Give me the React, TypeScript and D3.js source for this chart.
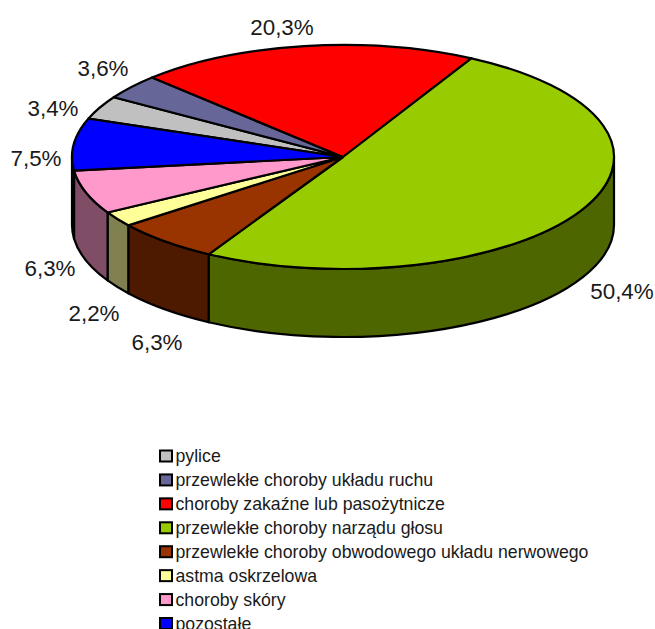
import React from "react";
import * as d3 from "d3";

// Occupational disease shares, in drawing order clockwise from the start angle
const categories = [
  "pylice",
  "przewlekłe choroby układu ruchu",
  "choroby zakaźne lub pasożytnicze",
  "przewlekłe choroby narządu głosu",
  "przewlekłe choroby obwodowego układu nerwowego",
  "astma oskrzelowa",
  "choroby skóry",
  "pozostałe",
];
const shares = [3.4, 3.6, 20.3, 50.4, 6.3, 2.2, 6.3, 7.5];
const topColors = ["#C0C0C0", "#666699", "#FF0000", "#99CC00", "#993300", "#FFFF99", "#FF99CC", "#0000FF"];
const sideColors = ["#606060", "#33334D", "#800000", "#4D6600", "#4D1A00", "#808050", "#804D66", "#000080"];
const labelAnchors = [
  [53, 108],
  [103, 68],
  [282, 27],
  [622, 291],
  [157, 342],
  [94, 313],
  [50, 268],
  [36, 158],
];

const W = 655;
const H = 629;
const cx = 343;
const cy = 157;
const rx = 271;
const ry = 112;
const depth = 68;
const startDeg = -70;
const FONT = "'Liberation Sans', Arial, sans-serif";

const toRad = (deg: number) => (deg * Math.PI) / 180;
const pieLayout = d3
  .pie<number>()
  .sort(null)
  .startAngle(toRad(startDeg))
  .endAngle(toRad(startDeg + 360));
const slices = pieLayout(shares);

const arcTop = d3.arc<d3.PieArcDatum<number>>().innerRadius(0).outerRadius(rx);

// Angles run clockwise from twelve o'clock; the disc is squashed vertically.
const px = (a: number) => cx + rx * Math.sin(a);
const py = (a: number) => cy - ry * Math.cos(a);

// Wall of one slice, limited to the half of the rim that faces the viewer
function wallPath(a0: number, a1: number): string | null {
  const lo = Math.max(a0, Math.PI / 2);
  const hi = Math.min(a1, (3 * Math.PI) / 2);
  if (hi <= lo) return null;
  return (
    `M${px(lo)},${py(lo)}` +
    `A${rx},${ry} 0 0 1 ${px(hi)},${py(hi)}` +
    `L${px(hi)},${py(hi) + depth}` +
    `A${rx},${ry} 0 0 0 ${px(lo)},${py(lo) + depth}Z`
  );
}

const legendY = d3
  .scalePoint<number>()
  .domain(d3.range(categories.length))
  .range([457.5, 625]);

export default function App() {
  return (
    <svg
      width={W}
      height={H}
      viewBox={`0 0 ${W} ${H}`}
      style={{ position: "absolute", left: 0, top: 0, background: "#fff" }}
    >
      <g stroke="#000" strokeWidth={2.2} strokeLinejoin="round">
        {slices.map((s, i) => {
          const d = wallPath(s.startAngle, s.endAngle);
          return d ? <path key={i} d={d} fill={sideColors[i]} /> : null;
        })}
        <g transform={`translate(${cx},${cy}) scale(1,${ry / rx})`}>
          {slices.map((s, i) => (
            <path
              key={i}
              d={arcTop(s) ?? ""}
              fill={topColors[i]}
              vectorEffect="non-scaling-stroke"
            />
          ))}
        </g>
      </g>
      <g fontFamily={FONT} fontSize={22.4} fill="#1a1a1a" textAnchor="middle">
        {shares.map((v, i) => (
          <text key={i} x={labelAnchors[i][0]} y={labelAnchors[i][1] + 7.5}>
            {v.toFixed(1).replace(".", ",")}%
          </text>
        ))}
      </g>
      <g fontFamily={FONT} fontSize={17.7} fill="#1a1a1a">
        {categories.map((c, i) => {
          const y = legendY(i) ?? 0;
          return (
            <g key={c}>
              <rect
                x={160}
                y={y - 7}
                width={12}
                height={11}
                fill={topColors[i]}
                stroke="#000"
                strokeWidth={2}
              />
              <text x={175.5} y={y + 4.5}>
                {c}
              </text>
            </g>
          );
        })}
      </g>
    </svg>
  );
}
